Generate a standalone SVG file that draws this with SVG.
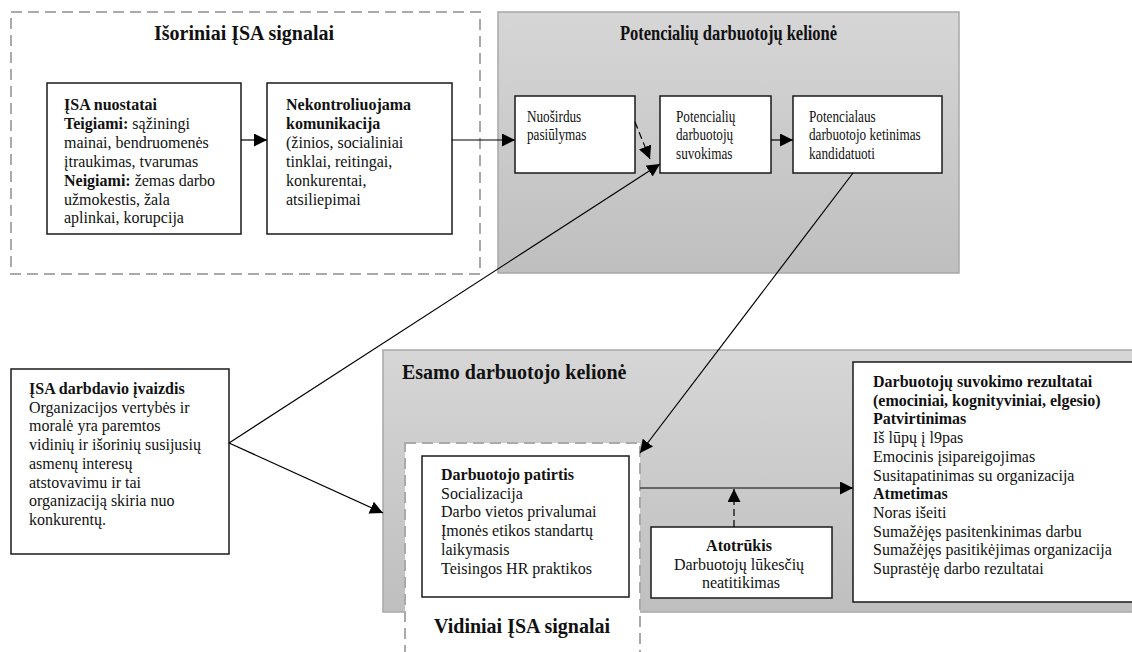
<svg xmlns="http://www.w3.org/2000/svg" width="1132" height="652" viewBox="0 0 1132 652">
<style>
text{font-family:"Liberation Serif","Times New Roman",serif;font-size:16px;fill:#111}
.b{font-weight:bold}
.t{font-size:20px;font-weight:bold}
.box{fill:#fff;stroke:#1a1a1a;stroke-width:1.5}
.dash{fill:#fff;stroke:#aaaaaa;stroke-width:2;stroke-dasharray:11 6}
.grey{stroke:#a8a8a8;stroke-width:1.5}
.ln{stroke:#000;stroke-width:1.2;fill:none}
.dl{stroke:#000;stroke-width:1.2;fill:none;stroke-dasharray:7 4}
</style>
<defs>
<linearGradient id="g1" x1="0" y1="0" x2="0" y2="1">
<stop offset="0" stop-color="#d6d6d6"/>
<stop offset="1" stop-color="#bfbfbf"/>
</linearGradient>
<marker id="ah" markerUnits="userSpaceOnUse" markerWidth="14" markerHeight="14" refX="13" refY="6.5" orient="auto">
<path d="M0,0 L13,6.5 L0,13 z" fill="#000"/>
</marker>
</defs>
<rect width="1132" height="652" fill="#fff"/>

<g id="external-signals">
<rect class="dash" x="11" y="12" width="469" height="262"/>
<text class="t" x="244" y="40" text-anchor="middle">Išoriniai ĮSA signalai</text>
</g>

<g id="potential-journey">
<rect class="grey" x="498" y="12" width="461" height="261" fill="url(#g1)"/>
<text class="t" transform="translate(728.5,40) scale(0.825,1)" text-anchor="middle">Potencialių darbuotojų kelionė</text>
</g>

<g id="current-journey">
<rect class="grey" x="383" y="350" width="760" height="262" fill="url(#g1)"/>
<text class="t" x="402" y="379">Esamo darbuotojo kelionė</text>
</g>

<g id="internal-signals">
<rect class="dash" x="405" y="443" width="235" height="220"/>
<text class="t" x="522" y="633" text-anchor="middle">Vidiniai ĮSA signalai</text>
</g>

<g id="isa-nuostatai">
<rect class="box" x="47" y="83" width="194" height="151"/>
<text x="64" y="110"><tspan class="b">ĮSA nuostatai</tspan>
<tspan x="64" dy="18.9"><tspan class="b">Teigiami:</tspan> sąžiningi</tspan>
<tspan x="64" dy="18.9">mainai, bendruomenės</tspan>
<tspan x="64" dy="18.9">įtraukimas, tvarumas</tspan>
<tspan x="64" dy="18.9"><tspan class="b">Neigiami:</tspan> žemas darbo</tspan>
<tspan x="64" dy="18.9">užmokestis, žala</tspan>
<tspan x="64" dy="18.9">aplinkai, korupcija</tspan></text>
</g>

<g id="nekontroliuojama">
<rect class="box" x="267" y="83" width="185" height="151"/>
<text x="286" y="110"><tspan class="b">Nekontroliuojama</tspan>
<tspan x="286" dy="18.9" class="b">komunikacija</tspan>
<tspan x="286" dy="18.9">(žinios, socialiniai</tspan>
<tspan x="286" dy="18.9">tinklai, reitingai,</tspan>
<tspan x="286" dy="18.9">konkurentai,</tspan>
<tspan x="286" dy="18.9">atsiliepimai</tspan></text>
</g>

<g id="nuosirdus">
<rect class="box" x="515" y="96" width="120" height="77"/>
<text transform="translate(527,121.5) scale(0.825,1)">Nuoširdus</text>
<text transform="translate(527,140) scale(0.825,1)">pasiūlymas</text>
</g>

<g id="suvokimas">
<rect class="box" x="660" y="96" width="111" height="77"/>
<text transform="translate(676,121.5) scale(0.825,1)">Potencialių</text>
<text transform="translate(676,140) scale(0.825,1)">darbuotojų</text>
<text transform="translate(676,158.5) scale(0.825,1)">suvokimas</text>
</g>

<g id="ketinimas">
<rect class="box" x="793" y="96" width="149" height="77"/>
<text transform="translate(809,121.5) scale(0.825,1)">Potencialaus</text>
<text transform="translate(809,140) scale(0.825,1)">darbuotojo ketinimas</text>
<text transform="translate(809,158.5) scale(0.825,1)">kandidatuoti</text>
</g>

<g id="darbdavio-ivaizdis">
<rect class="box" x="11" y="369" width="218" height="185"/>
<text x="29" y="394"><tspan class="b">ĮSA darbdavio įvaizdis</tspan>
<tspan x="29" dy="18.7">Organizacijos vertybės ir</tspan>
<tspan x="29" dy="18.7">moralė yra paremtos</tspan>
<tspan x="29" dy="18.7">vidinių ir išorinių susijusių</tspan>
<tspan x="29" dy="18.7">asmenų interesų</tspan>
<tspan x="29" dy="18.7">atstovavimu ir tai</tspan>
<tspan x="29" dy="18.7">organizaciją skiria nuo</tspan>
<tspan x="29" dy="18.7">konkurentų.</tspan></text>
</g>

<g id="darbuotojo-patirtis">
<rect class="box" x="422" y="456" width="207" height="141"/>
<text x="441" y="480"><tspan class="b">Darbuotojo patirtis</tspan>
<tspan x="441" dy="18.7">Socializacija</tspan>
<tspan x="441" dy="18.7">Darbo vietos privalumai</tspan>
<tspan x="441" dy="18.7">Įmonės etikos standartų</tspan>
<tspan x="441" dy="18.7">laikymasis</tspan>
<tspan x="441" dy="18.7">Teisingos HR praktikos</tspan></text>
</g>

<g id="atotrukis">
<rect class="box" x="651" y="527" width="181" height="71"/>
<text x="741" y="551" text-anchor="middle"><tspan class="b">Atotrūkis</tspan>
<tspan x="741" dy="18.7">Darbuotojų lūkesčių</tspan>
<tspan x="741" dy="18.7">neatitikimas</tspan></text>
</g>

<g id="rezultatai">
<rect class="box" x="853" y="362" width="290" height="240"/>
<text x="873" y="387"><tspan class="b">Darbuotojų suvokimo rezultatai</tspan>
<tspan x="873" dy="18.7" class="b">(emociniai, kognityviniai, elgesio)</tspan>
<tspan x="873" dy="18.7" class="b">Patvirtinimas</tspan>
<tspan x="873" dy="18.7">Iš lūpų į l9pas</tspan>
<tspan x="873" dy="18.7">Emocinis įsipareigojimas</tspan>
<tspan x="873" dy="18.7">Susitapatinimas su organizacija</tspan>
<tspan x="873" dy="18.7" class="b">Atmetimas</tspan>
<tspan x="873" dy="18.7">Noras išeiti</tspan>
<tspan x="873" dy="18.7">Sumažėjęs pasitenkinimas darbu</tspan>
<tspan x="873" dy="18.7">Sumažėjęs pasitikėjimas organizacija</tspan>
<tspan x="873" dy="18.7">Suprastėję darbo rezultatai</tspan></text>
</g>

<g id="connectors">
<line class="ln" x1="241" y1="140" x2="267" y2="140" marker-end="url(#ah)"/>
<line class="ln" x1="452" y1="140" x2="515" y2="140" marker-end="url(#ah)"/>
<line class="dl" x1="635" y1="122" x2="650" y2="159" marker-end="url(#ah)"/>
<line class="ln" x1="771" y1="140" x2="793" y2="140" marker-end="url(#ah)"/>
<line class="ln" x1="229" y1="443" x2="660" y2="164" marker-end="url(#ah)"/>
<line class="ln" x1="229" y1="443" x2="383" y2="513" marker-end="url(#ah)"/>
<line class="ln" x1="853" y1="173" x2="640" y2="453" marker-end="url(#ah)"/>
<line class="ln" x1="640" y1="488" x2="853" y2="488" marker-end="url(#ah)"/>
<line class="dl" x1="734" y1="527" x2="734" y2="489" marker-end="url(#ah)"/>
</g>
</svg>
